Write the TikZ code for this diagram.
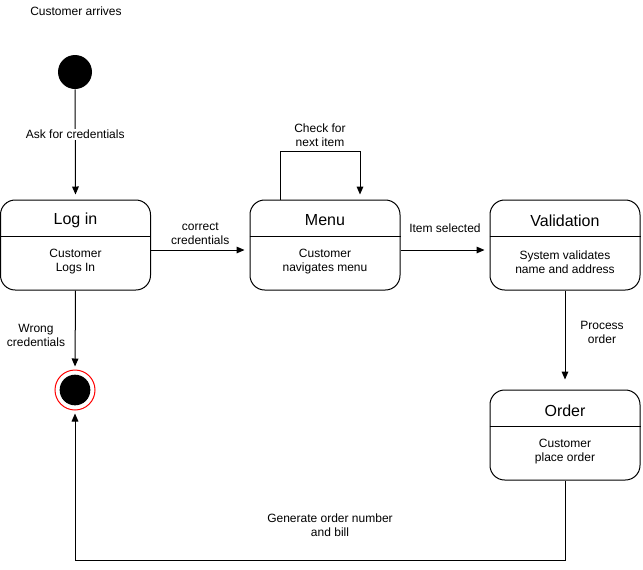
\documentclass[tikz,border=0pt]{standalone}
\usepackage{fontspec}
\setmainfont{Liberation Sans}
\usetikzlibrary{arrows.meta}
\begin{document}
\begin{tikzpicture}[x=0.75pt,y=-0.75pt,
  state/.style={draw, rounded corners=11pt, minimum width=112.5pt, minimum height=67.5pt, line width=0.75pt, inner sep=0pt},
  stitle/.style={font=\fontsize{12}{14}\selectfont, inner sep=0pt},
  sbody/.style={font=\fontsize{9}{10.5}\selectfont, align=center, inner sep=0pt},
  arr/.style={-{Triangle[length=6pt,width=5pt]}, line width=0.75pt, shorten >=3.75pt},
  lbl/.style={font=\fontsize{9}{10.5}\selectfont, align=center, inner sep=1pt},
  onl/.style={lbl, fill=white}]
\useasboundingbox (0,0) rectangle (643,569);

% pseudo states
\node[circle, fill=black, minimum size=25.5pt, inner sep=0pt] (start) at (75,72) {};
\node[circle, draw=red, fill=white, line width=0.75pt, minimum size=30pt, inner sep=0pt] (finish) at (75,390) {};
\node[circle, fill=black, minimum size=23pt, inner sep=0pt] (finishdot) at (finish) {};

% states with a title compartment
\node[state] (login) at (75.5,245) {};
\node[state] (menu)  at (325,245) {};
\node[state] (valid) at (565,245) {};
\node[state] (order) at (565,435) {};

\foreach \s/\t/\b in {login/Log in/{Customer\\Logs In},
                      menu/Menu/{Customer\\navigates menu},
                      valid/Validation/{System validates\\name and address},
                      order/Order/{Customer\\place order}}{
  \draw[line width=0.6pt] ([yshift=6.75pt]\s.west) -- ([yshift=6.75pt]\s.east);
  \node[stitle] (\s-title) at ([yshift=18.5pt]\s.center) {\t};
  \node[sbody] (\s-body) at ([yshift=-12.75pt]\s.center) {\b};
}

\node[lbl] (arrive) at (76,11) {Customer arrives};

% transitions
\draw[arr] (start) -- (login.north) node[onl, pos=0.41] {Ask for credentials};
\draw[arr] ([yshift=-3.75pt]login.east) -- ([yshift=-3.75pt]menu.west)
  node[lbl, midway, above=2.5pt] {correct\\credentials};
\draw[arr] ([yshift=-3.75pt]menu.east) -- ([yshift=-3.75pt]valid.west)
  node[lbl, midway, above=12pt] {Item selected};
\draw[arr] ([xshift=-33.75pt]menu.north) -- ++(0,-48) -- ++(80,0) -- ([xshift=26.25pt]menu.north);
\node[lbl] (looplbl) at (320,135) {Check for\\next item};
\draw[arr, shorten >=7.5pt] (valid.south) -- (order.north);
\node[lbl] (proclbl) at (602,332) {Process\\order};
\draw[arr, shorten >=2.25pt] (login.south) -- (finish.north);
\node[lbl] (wronglbl) at (36,335) {Wrong\\credentials};
\draw[arr, shorten >=2.25pt] (order.south) -- ++(0,80) -| (finish.south);
\node[lbl] (genlbl) at (330,525) {Generate order number\\and bill};
\end{tikzpicture}
\end{document}
